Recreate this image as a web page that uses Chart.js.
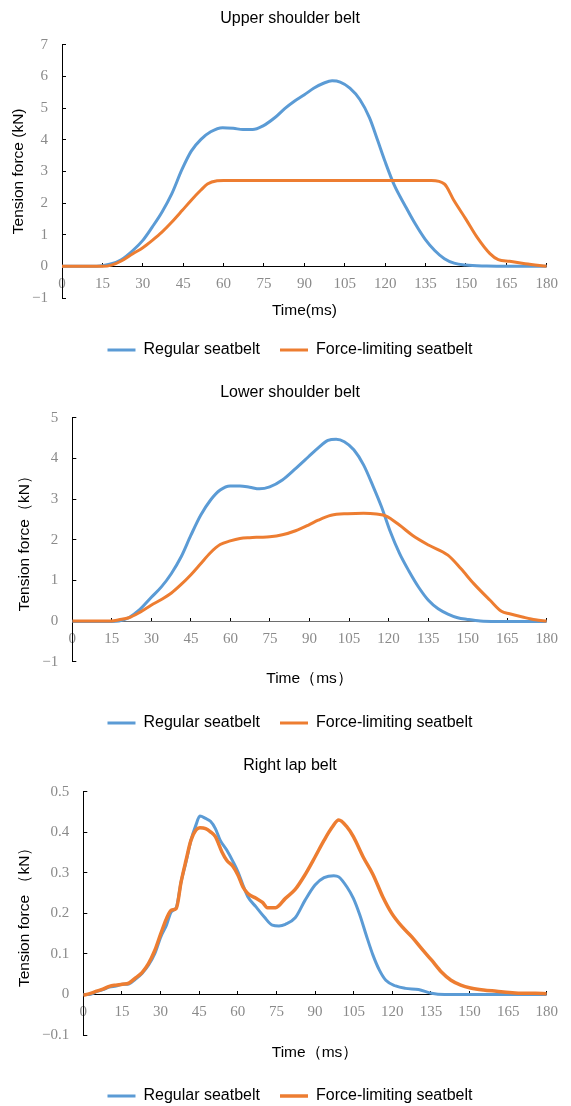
<!DOCTYPE html>
<html><head><meta charset="utf-8">
<script src="https://cdn.jsdelivr.net/npm/chart.js@4.4.1/dist/chart.umd.min.js"></script>
<style>html,body{margin:0;padding:0;background:#fff;overflow:hidden}canvas{display:block}</style>
</head><body>
<canvas id="c1" width="571" height="370"></canvas>
<canvas id="c2" width="571" height="370"></canvas>
<canvas id="c3" width="571" height="366"></canvas>
<script>
// ---------- tick labels ----------
const timeTicks = [0, 15, 30, 45, 60, 75, 90, 105, 120, 135, 150, 165, 180];
const upperYTicks = [-1, 0, 1, 2, 3, 4, 5, 6, 7];
const lowerYTicks = [-1, 0, 1, 2, 3, 4, 5];
const lapYTicks = [-0.1, 0, 0.1, 0.2, 0.3, 0.4, 0.5];

const seriesNames = ['Regular seatbelt', 'Force-limiting seatbelt'];

// ---------- Upper shoulder belt ----------
const upperRegularT = [0, 10, 15, 18.4, 22, 26.3, 30, 33.5, 37.1, 40.7, 44.6, 48, 51.6, 55.2, 59.6, 63.6, 67.2, 70.8, 74.5, 79.1, 82.7, 86.4, 90, 93.6, 97.3, 100.3, 103.3, 106.9, 110.6, 114.2, 117.2, 120, 123.3, 127.5, 131.1, 134.8, 138.4, 142, 145.6, 149.9, 157.7, 165, 180];
const upperRegularV = [0, 0, 0.02, 0.08, 0.21, 0.5, 0.82, 1.24, 1.71, 2.28, 3.07, 3.64, 4.01, 4.25, 4.38, 4.36, 4.32, 4.32, 4.43, 4.7, 4.98, 5.22, 5.42, 5.63, 5.79, 5.86, 5.82, 5.63, 5.27, 4.69, 3.98, 3.3, 2.58, 1.9, 1.35, 0.86, 0.5, 0.24, 0.1, 0.04, 0.01, 0, 0];
const upperLimitT = [0, 15, 18.4, 22, 26.3, 30, 33.5, 37.1, 40.7, 44.6, 48, 51.6, 54, 57.6, 60, 137.2, 142, 145.6, 149.9, 154.1, 158.9, 162, 166.2, 172, 180];
const upperLimitV = [0, 0, 0.04, 0.17, 0.4, 0.59, 0.82, 1.08, 1.39, 1.76, 2.09, 2.41, 2.6, 2.7, 2.71, 2.71, 2.6, 2.07, 1.5, 0.92, 0.4, 0.21, 0.16, 0.08, 0];

// ---------- Lower shoulder belt ----------
const lowerRegularT = [0, 15, 17.7, 21.4, 25.2, 29.9, 33.8, 37.6, 41.3, 45, 48.7, 52.4, 56.1, 59.9, 63.6, 67.3, 71, 74.9, 79.7, 84.7, 89.6, 93.3, 97, 100.1, 103.2, 106.8, 110.5, 114.2, 117.3, 120.4, 124.1, 127.7, 131.4, 135.1, 138.8, 142.5, 146.2, 149.9, 154.8, 160.9, 180];
const lowerRegularV = [-0.01, -0.01, 0, 0.08, 0.26, 0.58, 0.84, 1.17, 1.58, 2.11, 2.6, 2.97, 3.22, 3.32, 3.32, 3.29, 3.25, 3.3, 3.47, 3.75, 4.04, 4.26, 4.44, 4.47, 4.41, 4.21, 3.84, 3.3, 2.81, 2.24, 1.67, 1.23, 0.83, 0.51, 0.3, 0.17, 0.08, 0.04, 0, -0.01, -0.01];
const lowerLimitT = [0, 15, 17.7, 21.4, 25.2, 29.9, 33.8, 37.6, 41.3, 45, 48.7, 52.4, 56.1, 59.9, 63.6, 67.3, 71, 74.9, 79.7, 84.7, 89.6, 93.3, 98.2, 104.4, 110.5, 115.4, 119.1, 124.1, 129, 135.1, 142.5, 147.4, 152.3, 158.5, 162.8, 165.9, 170.8, 175.7, 180];
const lowerLimitV = [0, 0, 0.03, 0.08, 0.2, 0.39, 0.53, 0.69, 0.9, 1.14, 1.41, 1.68, 1.88, 1.97, 2.03, 2.05, 2.06, 2.07, 2.12, 2.22, 2.36, 2.48, 2.6, 2.64, 2.65, 2.63, 2.58, 2.36, 2.11, 1.87, 1.62, 1.29, 0.92, 0.51, 0.24, 0.18, 0.1, 0.03, 0];

// ---------- Right lap belt ----------
const lapRegularT = [0, 2.5, 5.1, 7.6, 10.1, 12.7, 15.2, 17.7, 20.3, 22.8, 25.3, 27.8, 30.1, 32.3, 34.2, 36.1, 38, 39.9, 41.8, 43.7, 45.3, 47.5, 49.4, 51.3, 53.2, 55.7, 58.2, 60.1, 62, 63.9, 67.1, 70.3, 73.4, 76, 78.5, 82.3, 86.1, 90, 93.5, 97.3, 99.2, 102.4, 104.9, 107.4, 109.9, 112.5, 115, 117.5, 121.3, 125.1, 130.2, 135.2, 140.3, 180];
const lapRegularV = [0, 0, 0.007, 0.012, 0.018, 0.021, 0.025, 0.026, 0.038, 0.052, 0.072, 0.101, 0.142, 0.171, 0.204, 0.214, 0.278, 0.327, 0.38, 0.417, 0.44, 0.434, 0.427, 0.409, 0.38, 0.356, 0.327, 0.302, 0.27, 0.241, 0.216, 0.191, 0.171, 0.169, 0.173, 0.189, 0.232, 0.27, 0.288, 0.293, 0.29, 0.265, 0.237, 0.196, 0.146, 0.097, 0.06, 0.035, 0.021, 0.015, 0.012, 0.003, 0, 0];
const lapLimitT = [0, 2.5, 5.1, 7.6, 10.1, 12.7, 15.2, 17.7, 20.3, 22.8, 25.3, 27.8, 30.1, 32.3, 34.2, 36.1, 38, 39.9, 41.8, 43.7, 45.3, 47.5, 49.4, 51.3, 53.8, 55.7, 58.2, 60.1, 62, 63.9, 67.1, 69.6, 71.5, 74.7, 78.5, 82.3, 86, 90, 93.5, 96.7, 99.2, 102.4, 104.9, 108.7, 112.5, 116.3, 119.8, 123.8, 127.6, 131.4, 135.2, 139, 142.8, 146.6, 150.4, 155.4, 160.5, 165.5, 170.6, 175.6, 180];
const lapLimitV = [-0.002, 0.002, 0.008, 0.013, 0.02, 0.023, 0.025, 0.028, 0.041, 0.054, 0.076, 0.109, 0.15, 0.187, 0.208, 0.212, 0.278, 0.331, 0.38, 0.405, 0.411, 0.409, 0.401, 0.389, 0.352, 0.331, 0.315, 0.294, 0.265, 0.249, 0.237, 0.227, 0.214, 0.214, 0.237, 0.259, 0.294, 0.339, 0.38, 0.413, 0.43, 0.413, 0.389, 0.339, 0.296, 0.241, 0.2, 0.167, 0.142, 0.113, 0.085, 0.056, 0.035, 0.023, 0.016, 0.011, 0.008, 0.005, 0.003, 0.003, 0.002];

// ---------- styling ----------
const SANS = "'Liberation Sans', Arial, sans-serif";
const SERIF = "'Liberation Serif', 'Times New Roman', serif";
const TICK_COLOR = '#8a8a8a';
const BLUE = '#5B9BD5';
const ORANGE = '#ED7D31';

function pts(t, v) { return t.map((x, i) => ({ x: x, y: v[i] })); }

function makeChart(id, c) {
  const L = c.layout;
  return new Chart(document.getElementById(id), {
    type: 'line',
    data: {
      datasets: [
        { label: seriesNames[0], data: pts(c.regT, c.regV), borderColor: BLUE, backgroundColor: BLUE,
          borderWidth: 3, pointRadius: 0, cubicInterpolationMode: 'monotone', order: 1 },
        { label: seriesNames[1], data: pts(c.limT, c.limV), borderColor: ORANGE, backgroundColor: ORANGE,
          borderWidth: L.limWidth, pointRadius: 0, cubicInterpolationMode: 'monotone', order: 0 }
      ]
    },
    options: {
      responsive: false,
      animation: false,
      devicePixelRatio: 1,
      layout: { padding: { left: L.padL, right: 0, top: 0, bottom: L.padB } },
      plugins: {
        tooltip: { enabled: false },
        title: { display: true, text: c.title, color: '#000',
          font: { family: SANS, size: 16, weight: 'normal' },
          padding: { top: L.titleTop, bottom: L.titleBottom } },
        legend: { position: 'bottom',
          labels: { usePointStyle: true, pointStyle: 'line', pointStyleWidth: 28, padding: 20,
            color: '#000', font: { family: SANS, size: 16 },
            sort: (a, b) => a.datasetIndex - b.datasetIndex } }
      },
      scales: {
        x: {
          type: 'linear', min: 0, max: 180, position: { y: 0 },
          afterBuildTicks: s => { s.ticks = timeTicks.map(v => ({ value: v })); },
          ticks: { autoSkip: false, maxRotation: 0, padding: 13, color: TICK_COLOR,
            font: { family: SERIF, size: 15 }, callback: v => String(v) },
          grid: { display: true, drawOnChartArea: false, drawTicks: true, tickLength: -4, color: '#000' },
          border: { display: true, color: L.xBorder, width: 1 }
        },
        x2: {
          type: 'linear', min: 0, max: 180, position: 'bottom',
          ticks: { display: false },
          grid: { display: false, drawTicks: false },
          border: { display: false },
          title: { display: true, text: c.xTitle, color: '#000',
            font: { family: SANS, size: 15.5 }, padding: { top: L.xTitleTop, bottom: L.xTitleBottom } }
        },
        y: {
          type: 'linear', position: 'left', min: c.yTicks[0], max: c.yTicks[c.yTicks.length - 1],
          afterBuildTicks: s => { s.ticks = c.yTicks.map(v => ({ value: v })); },
          afterFit: s => { s.width = L.yWidth; },
          ticks: { padding: 18, color: TICK_COLOR, font: { family: SERIF, size: 15 },
            callback: v => {
              if (Math.abs(v) < 1e-9) return '0';
              const s = Math.abs(v).toFixed(c.decimals);
              return v < 0 ? '\u2212' + s : s;
            } },
          grid: { display: true, drawOnChartArea: false, drawTicks: true, tickLength: -4, color: '#000' },
          border: { display: true, color: '#000', width: 1 },
          title: { display: true, text: c.yTitle, color: '#000',
            font: { family: SANS, size: 15.5 }, padding: { top: L.yTitlePad, bottom: 0 } }
        },
        yR: {
          type: 'linear', position: 'right', display: true,
          afterFit: s => { s.width = L.rightW; },
          ticks: { display: false }, grid: { display: false, drawTicks: false }, border: { display: false }
        }
      }
    }
  });
}

makeChart('c1', {
  title: 'Upper shoulder belt', xTitle: 'Time(ms)', yTitle: 'Tension force (kN)',
  regT: upperRegularT, regV: upperRegularV, limT: upperLimitT, limV: upperLimitV,
  yTicks: upperYTicks, decimals: 0,
  layout: { padL: 9, padB: 2, titleTop: 8.7, titleBottom: 16.8, yWidth: 53, yTitlePad: 0.7,
    xTitleTop: 3.4, xTitleBottom: 2, rightW: 11, xBorder: '#000', limWidth: 3 }
});
makeChart('c2', {
  title: 'Lower shoulder belt', xTitle: 'Time\uFF08ms\uFF09', yTitle: 'Tension force\uFF08kN\uFF09',
  regT: lowerRegularT, regV: lowerRegularV, limT: lowerLimitT, limV: lowerLimitV,
  yTicks: lowerYTicks, decimals: 0,
  layout: { padL: 9, padB: -1, titleTop: 13.4, titleBottom: 15.1, yWidth: 63.3, yTitlePad: 6.2,
    xTitleTop: 8, xTitleBottom: 6.7, rightW: 14, xBorder: '#6e6e6e', limWidth: 3 }
});
makeChart('c3', {
  title: 'Right lap belt', xTitle: 'Time\uFF08ms\uFF09', yTitle: 'Tension force \uFF08kN\uFF09',
  regT: lapRegularT, regV: lapRegularV, limT: lapLimitT, limV: lapLimitV,
  yTicks: lapYTicks, decimals: 1,
  layout: { padL: 9, padB: -8, titleTop: 16.4, titleBottom: 16.1, yWidth: 74.3, yTitlePad: 6.2,
    xTitleTop: 8.7, xTitleBottom: 5.7, rightW: 13, xBorder: '#000', limWidth: 3.5 }
});
</script>
</body></html>
